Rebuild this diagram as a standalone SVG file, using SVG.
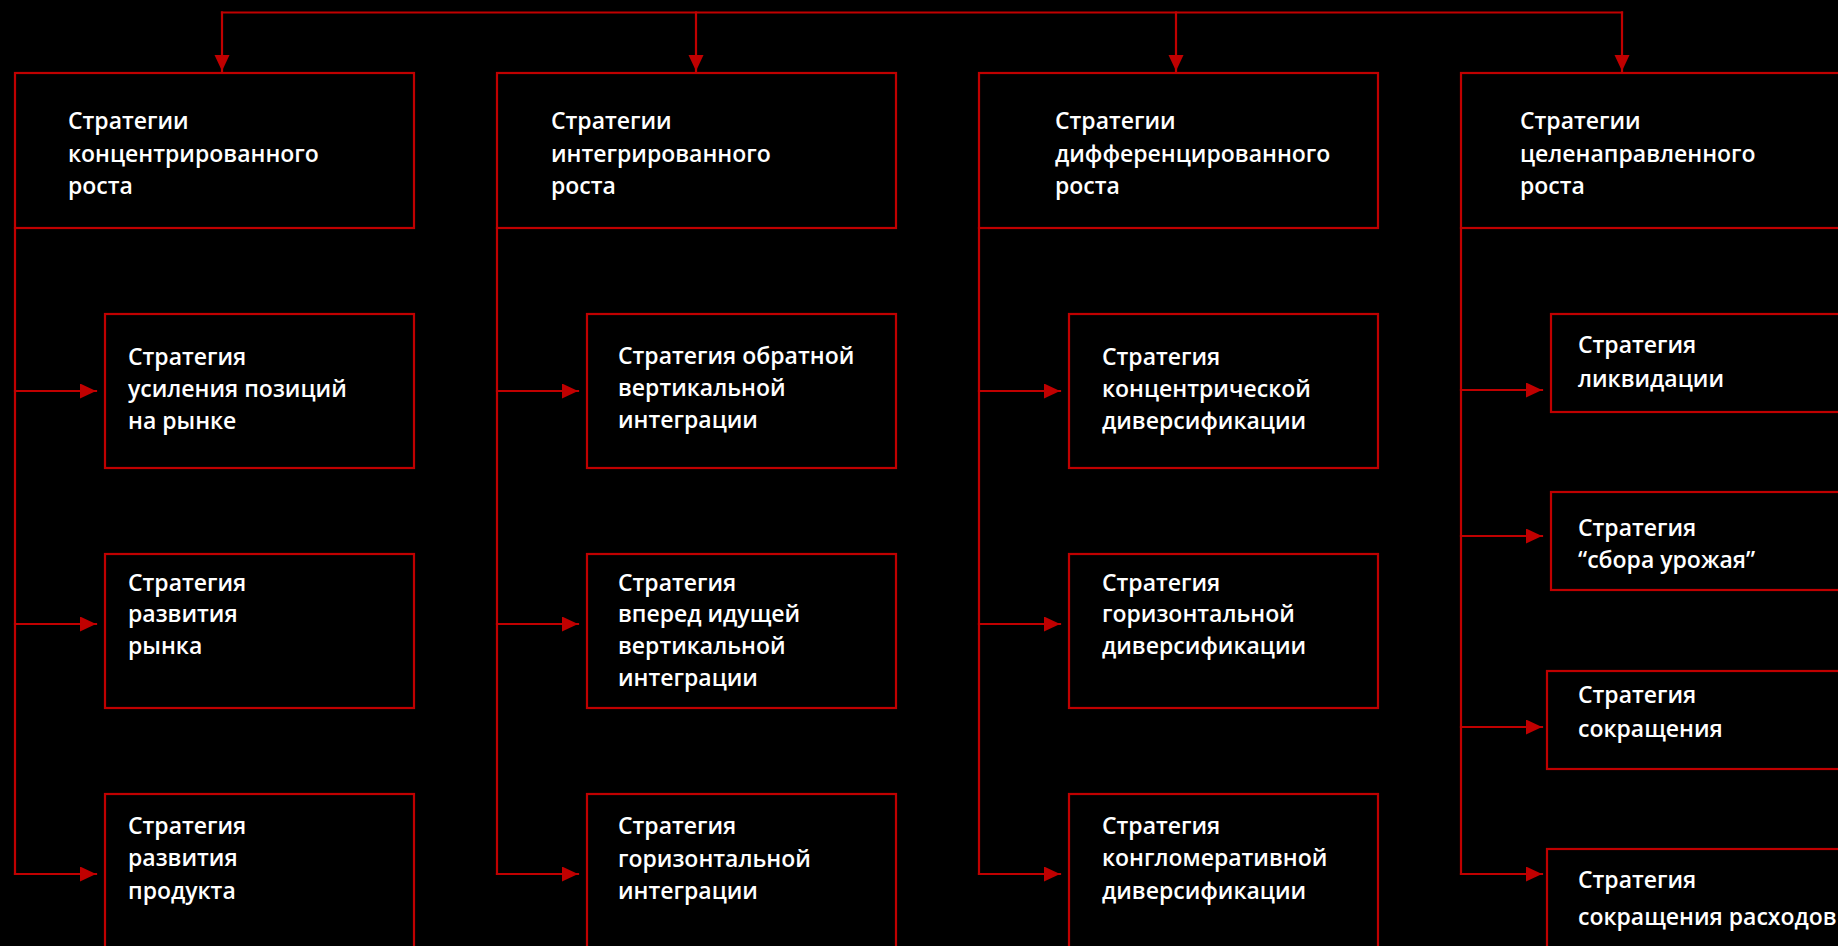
<svg xmlns="http://www.w3.org/2000/svg" width="1838" height="946" viewBox="0 0 1838 946">
<defs>
<style>
.box{fill:none;stroke:#c00000;stroke-width:2.2}
.ln{fill:none;stroke:#c00000;stroke-width:2.2;stroke-linejoin:miter;stroke-linecap:square}
.t{font-family:"Open Sans","DejaVu Sans",sans-serif;font-weight:600;font-size:23px;fill:#ffffff}
</style>
<marker id="ah" markerUnits="userSpaceOnUse" markerWidth="17" markerHeight="16" refX="16" refY="7.5" orient="auto">
<path d="M0,0 L16,7.5 L0,15 z" fill="#c00000"/>
</marker>
</defs>
<rect width="1838" height="946" fill="#000000"/>

<g id="connectors">
<path class="ln" d="M222,12.5 H1622"/>
<path class="ln" d="M222,12.5 V71" marker-end="url(#ah)"/>
<path class="ln" d="M696,12.5 V71" marker-end="url(#ah)"/>
<path class="ln" d="M1176,12.5 V71" marker-end="url(#ah)"/>
<path class="ln" d="M1622,12.5 V71" marker-end="url(#ah)"/>

<path class="ln" d="M15,228 V874"/>
<path class="ln" d="M15,391 H96" marker-end="url(#ah)"/>
<path class="ln" d="M15,624 H96" marker-end="url(#ah)"/>
<path class="ln" d="M15,874 H96" marker-end="url(#ah)"/>

<path class="ln" d="M497,228 V874"/>
<path class="ln" d="M497,391 H578" marker-end="url(#ah)"/>
<path class="ln" d="M497,624 H578" marker-end="url(#ah)"/>
<path class="ln" d="M497,874 H578" marker-end="url(#ah)"/>

<path class="ln" d="M979,228 V874"/>
<path class="ln" d="M979,391 H1060" marker-end="url(#ah)"/>
<path class="ln" d="M979,624 H1060" marker-end="url(#ah)"/>
<path class="ln" d="M979,874 H1060" marker-end="url(#ah)"/>

<path class="ln" d="M1461,228 V874"/>
<path class="ln" d="M1461,390 H1542" marker-end="url(#ah)"/>
<path class="ln" d="M1461,536 H1542" marker-end="url(#ah)"/>
<path class="ln" d="M1461,727 H1542" marker-end="url(#ah)"/>
<path class="ln" d="M1461,874 H1542" marker-end="url(#ah)"/>
</g>

<g id="h1">
<rect class="box" x="15" y="73" width="399" height="155"/>
<text class="t" x="68" y="129">Стратегии</text>
<text class="t" x="68" y="162">концентрированного</text>
<text class="t" x="68" y="194">роста</text>
</g>
<g id="h2">
<rect class="box" x="497" y="73" width="399" height="155"/>
<text class="t" x="551" y="129">Стратегии</text>
<text class="t" x="551" y="162">интегрированного</text>
<text class="t" x="551" y="194">роста</text>
</g>
<g id="h3">
<rect class="box" x="979" y="73" width="399" height="155"/>
<text class="t" x="1055" y="129">Стратегии</text>
<text class="t" x="1055" y="162">дифференцированного</text>
<text class="t" x="1055" y="194">роста</text>
</g>
<g id="h4">
<rect class="box" x="1461" y="73" width="420" height="155"/>
<text class="t" x="1520" y="129">Стратегии</text>
<text class="t" x="1520" y="162">целенаправленного</text>
<text class="t" x="1520" y="194">роста</text>
</g>

<g id="c1b1">
<rect class="box" x="105" y="314" width="309" height="154"/>
<text class="t" x="128" y="365">Стратегия</text>
<text class="t" x="128" y="397">усиления позиций</text>
<text class="t" x="128" y="429">на рынке</text>
</g>
<g id="c1b2">
<rect class="box" x="105" y="554" width="309" height="154"/>
<text class="t" x="128" y="591">Стратегия</text>
<text class="t" x="128" y="622">развития</text>
<text class="t" x="128" y="654">рынка</text>
</g>
<g id="c1b3">
<rect class="box" x="105" y="794" width="309" height="160"/>
<text class="t" x="128" y="834">Стратегия</text>
<text class="t" x="128" y="866">развития</text>
<text class="t" x="128" y="899">продукта</text>
</g>

<g id="c2b1">
<rect class="box" x="587" y="314" width="309" height="154"/>
<text class="t" x="618" y="364">Стратегия обратной</text>
<text class="t" x="618" y="396">вертикальной</text>
<text class="t" x="618" y="428">интеграции</text>
</g>
<g id="c2b2">
<rect class="box" x="587" y="554" width="309" height="154"/>
<text class="t" x="618" y="591">Стратегия</text>
<text class="t" x="618" y="622">вперед идущей</text>
<text class="t" x="618" y="654">вертикальной</text>
<text class="t" x="618" y="686">интеграции</text>
</g>
<g id="c2b3">
<rect class="box" x="587" y="794" width="309" height="160"/>
<text class="t" x="618" y="834">Стратегия</text>
<text class="t" x="618" y="867">горизонтальной</text>
<text class="t" x="618" y="899">интеграции</text>
</g>

<g id="c3b1">
<rect class="box" x="1069" y="314" width="309" height="154"/>
<text class="t" x="1102" y="365">Стратегия</text>
<text class="t" x="1102" y="397">концентрической</text>
<text class="t" x="1102" y="429">диверсификации</text>
</g>
<g id="c3b2">
<rect class="box" x="1069" y="554" width="309" height="154"/>
<text class="t" x="1102" y="591">Стратегия</text>
<text class="t" x="1102" y="622">горизонтальной</text>
<text class="t" x="1102" y="654">диверсификации</text>
</g>
<g id="c3b3">
<rect class="box" x="1069" y="794" width="309" height="160"/>
<text class="t" x="1102" y="834">Стратегия</text>
<text class="t" x="1102" y="866">конгломеративной</text>
<text class="t" x="1102" y="899">диверсификации</text>
</g>

<g id="c4b1">
<rect class="box" x="1551" y="314" width="320" height="98"/>
<text class="t" x="1578" y="353">Стратегия</text>
<text class="t" x="1578" y="387">ликвидации</text>
</g>
<g id="c4b2">
<rect class="box" x="1551" y="492" width="320" height="98"/>
<text class="t" x="1578" y="536">Стратегия</text>
<text class="t" x="1578" y="568">“сбора урожая”</text>
</g>
<g id="c4b3">
<rect class="box" x="1547" y="671" width="324" height="98"/>
<text class="t" x="1578" y="703">Стратегия</text>
<text class="t" x="1578" y="737">сокращения</text>
</g>
<g id="c4b4">
<rect class="box" x="1547" y="849" width="324" height="110"/>
<text class="t" x="1578" y="888">Стратегия</text>
<text class="t" x="1578" y="925">сокращения расходов</text>
</g>
</svg>
